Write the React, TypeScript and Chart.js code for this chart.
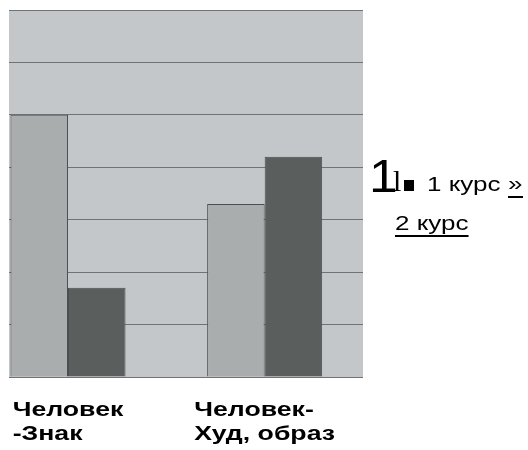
import React, { useEffect, useRef } from "react";
import { Chart, registerables } from "chart.js";

Chart.register(...registerables);

// ---- data ----
const categories: string[][] = [
  ["Человек", "-Знак"],
  ["Человек-", "Худ, образ"],
];
const seriesNames = ["1 курс", "2 курс"];
const course1 = [5, 3.3];
const course2 = [1.7, 4.2];
const yMin = 0;
const yMax = 7;
const yStep = 1;

// ---- styles ----
const PLOT_BG = "#c3c7c9";
const GRID = "#6f7375";
const LIGHT_BAR = "#a9adae";
const DARK_BAR = "#5a5f5d";
const BAR_BORDER = "#4b4f51";
const STRETCH = 1.27;

function drawStretched(
  ctx: CanvasRenderingContext2D,
  text: string,
  x: number,
  y: number,
  sx: number
) {
  ctx.save();
  ctx.translate(x, y);
  ctx.scale(sx, 1);
  ctx.fillText(text, 0, 0);
  ctx.restore();
  return ctx.measureText(text).width * sx;
}

const bgPlugin = {
  id: "plotBg",
  beforeDraw(chart: any) {
    const { ctx, chartArea } = chart;
    ctx.save();
    ctx.fillStyle = PLOT_BG;
    ctx.fillRect(
      chartArea.left,
      chartArea.top,
      chartArea.right - chartArea.left,
      chartArea.bottom - chartArea.top
    );
    ctx.restore();
  },
};

const labelPlugin = {
  id: "catLabels",
  afterDraw(chart: any) {
    const { ctx, chartArea } = chart;
    const xs = chart.scales.x;
    ctx.save();
    ctx.fillStyle = "#000";
    ctx.font = "bold 21px 'Liberation Sans', Arial, sans-serif";
    ctx.textBaseline = "alphabetic";
    ctx.textAlign = "left";
    categories.forEach((lines, i) => {
      const cx = xs.getPixelForValue(i);
      const w = Math.max(...lines.map((l) => ctx.measureText(l).width)) * STRETCH;
      const left = cx - w / 2;
      lines.forEach((line, j) => {
        drawStretched(ctx, line, left, chartArea.bottom + 39 + j * 24, STRETCH);
      });
    });
    ctx.restore();
  },
};

const legendPlugin = {
  id: "scanLegend",
  afterDraw(chart: any) {
    const { ctx, chartArea } = chart;
    const r = chartArea.right;
    ctx.save();
    ctx.fillStyle = "#000";
    ctx.strokeStyle = "#000";
    ctx.textBaseline = "alphabetic";
    ctx.textAlign = "left";
    // big "1"
    ctx.font = "47px 'Liberation Sans', Arial, sans-serif";
    drawStretched(ctx, "1", r + 6, 192, 1.1);
    // thin bar
    ctx.font = "30px 'Liberation Serif', serif";
    drawStretched(ctx, "l", r + 30, 191, 1.0);
    // square marker
    ctx.fillRect(r + 41, 180, 10, 11);
    // series 1
    ctx.font = "20px 'Liberation Sans', Arial, sans-serif";
    drawStretched(ctx, seriesNames[0], r + 64, 191, 1.3);
    drawStretched(ctx, "»", r + 145, 190, 1.3);
    ctx.lineWidth = 2;
    ctx.beginPath();
    ctx.moveTo(r + 145, 197);
    ctx.lineTo(r + 160, 197);
    ctx.stroke();
    // series 2
    ctx.font = "20px 'Liberation Sans', Arial, sans-serif";
    const w2 = drawStretched(ctx, seriesNames[1], r + 32, 230, 1.3);
    ctx.beginPath();
    ctx.moveTo(r + 32, 236);
    ctx.lineTo(r + 32 + w2, 236);
    ctx.stroke();
    ctx.restore();
  },
};

export default function App() {
  const canvasRef = useRef<HTMLCanvasElement | null>(null);

  useEffect(() => {
    if (!canvasRef.current) return;
    const chart = new Chart(canvasRef.current, {
      type: "bar",
      data: {
        datasets: [
          {
            label: seriesNames[0],
            data: course1.map((v, i) => ({ x: i, y: v })),
            backgroundColor: LIGHT_BAR,
            borderColor: BAR_BORDER,
            borderWidth: 1,
            categoryPercentage: 0.585,
            barPercentage: 1,
          },
          {
            label: seriesNames[1],
            data: course2.map((v, i) => ({ x: i, y: v })),
            backgroundColor: DARK_BAR,
            borderColor: BAR_BORDER,
            borderWidth: 1,
            categoryPercentage: 0.585,
            barPercentage: 1,
          },
        ],
      },
      options: {
        animation: false,
        responsive: true,
        maintainAspectRatio: false,
        layout: { padding: { left: 9, top: 10, right: 165, bottom: 73 } },
        plugins: {
          legend: { display: false },
          tooltip: { enabled: false },
        },
        scales: {
          x: {
            type: "linear",
            display: false,
            offset: false,
            min: -0.3,
            max: 1.5,
            afterBuildTicks: (axis: any) => {
              axis.ticks = categories.map((_, i) => ({ value: i }));
            },
          },
          y: {
            min: yMin,
            max: yMax,
            ticks: { display: false, stepSize: yStep },
            grid: { color: GRID, lineWidth: 1, drawTicks: false },
            border: { display: false },
          },
        },
      },
      plugins: [bgPlugin, labelPlugin, legendPlugin],
    } as any);
    return () => chart.destroy();
  }, []);

  return (
    <div
      style={{
        position: "fixed",
        left: 0,
        top: 0,
        width: 528,
        height: 450,
        background: "#fff",
      }}
    >
      <canvas ref={canvasRef} />
    </div>
  );
}
